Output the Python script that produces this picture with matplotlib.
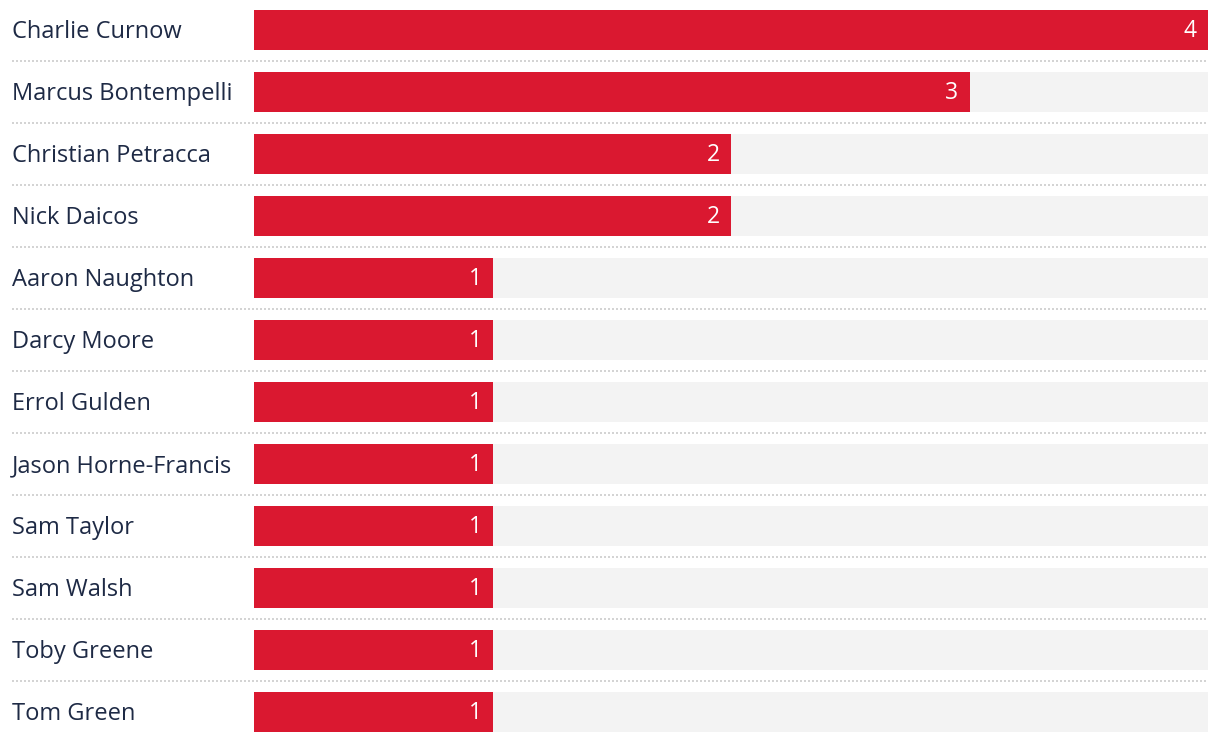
import matplotlib
matplotlib.use("Agg")
import matplotlib.pyplot as plt

players = ["Charlie Curnow", "Marcus Bontempelli", "Christian Petracca", "Nick Daicos",
           "Aaron Naughton", "Darcy Moore", "Errol Gulden", "Jason Horne-Francis",
           "Sam Taylor", "Sam Walsh", "Toby Greene", "Tom Green"]
goals = [4, 3, 2, 2, 1, 1, 1, 1, 1, 1, 1, 1]
max_val = 4

W, H = 1220, 742
bar_left, bar_right = 254, 1208
px = (bar_right - bar_left) / max_val  # pixels per unit
row_h = 62
first_center = 30

fig = plt.figure(figsize=(W / 100, H / 100), dpi=100)
ax = fig.add_axes([0, 0, 1, 1])
ax.set_xlim(-bar_left / px, (W - bar_left) / px)
ax.set_ylim((H - first_center) / row_h, -first_center / row_h)
ax.axis("off")

ys = list(range(len(players)))
bh = 40 / row_h
ax.barh(ys, [max_val] * len(players), height=bh, color="#f3f3f3", zorder=1)
ax.barh(ys, goals, height=bh, color="#da1830", zorder=2)

for y, name, v in zip(ys, players, goals):
    ax.annotate(name, xy=(12, y), xycoords=("figure pixels", "data"),
                xytext=(0, -2), textcoords="offset pixels",
                ha="left", va="center", fontsize=17, color="#1e2a45",
                family="Open Sans")
    ax.annotate(str(v), xy=(v, y), xytext=(-11, -1), textcoords="offset pixels",
                ha="right", va="center", fontsize=16.5, color="white",
                family="Open Sans", zorder=3)

for y in ys[:-1]:
    ax.hlines(y + 0.5, (12 - bar_left) / px, max_val, colors="#d4d4d4",
              linewidth=1.44, linestyles=(0, (1, 1)), zorder=0)

fig.savefig("out.png", dpi=100)
